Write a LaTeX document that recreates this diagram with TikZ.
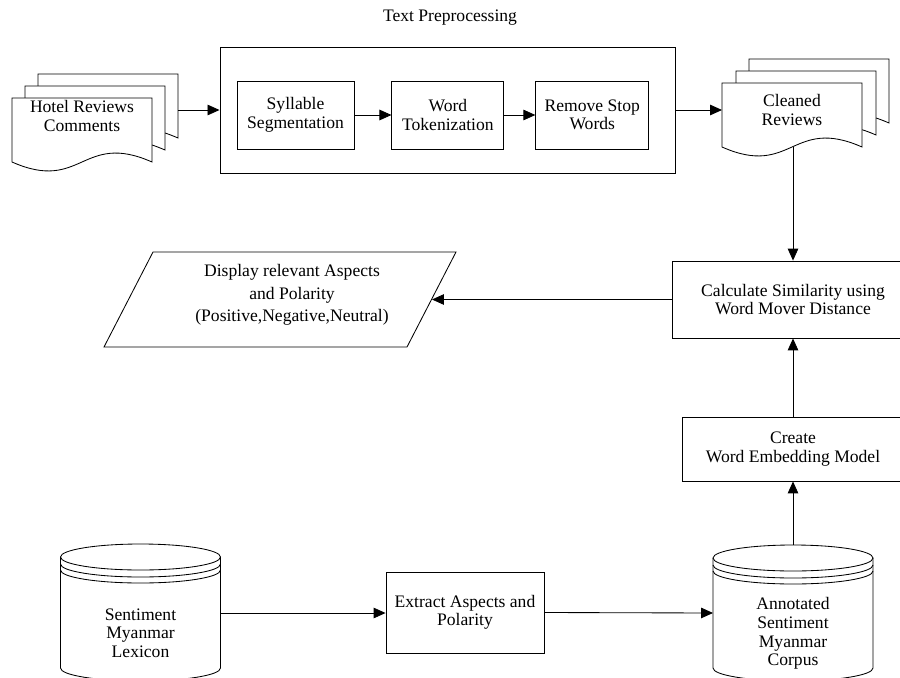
\documentclass[tikz,border=0pt]{standalone}
\usepackage{fontspec}
\setmainfont{Liberation Serif}
\usetikzlibrary{arrows.meta,positioning}

\tikzset{
  txt/.style={align=center, font=\fontsize{12.5}{13.2}\selectfont},
  box/.style={draw, fill=white, inner sep=0pt},
  flow/.style={-{Triangle[length=8.5pt,width=7.5pt]}},
}
% one sheet of a document stack, top left corner at #1
\newcommand\docsheet[1]{\draw[fill=white, shift={#1}] (0,0) -- (140,0) -- (140,64) .. controls (70,33) and (70,95) .. (0,64) -- cycle;}
% database drum, #1 = centre x, #2 = centre y of the lid
\newcommand\dbdrum[2]{%
  \draw[fill=white] (#1-80,#2) -- (#1-80,668) arc[start angle=180, end angle=0, x radius=80, y radius=13] -- (#1+80,#2);
  \draw (#1,#2) ellipse[x radius=80, y radius=13];
  \draw (#1-80,#2+7) arc[start angle=180, end angle=0, x radius=80, y radius=13];
  \draw (#1-80,#2+13) arc[start angle=180, end angle=0, x radius=80, y radius=13];
}

\begin{document}
\begin{tikzpicture}[x=0.025cm, y=-0.025cm, line width=0.6pt, every node/.style={txt}]
  \useasboundingbox (0,0) rectangle (900,677);
  \clip (0,0) rectangle (900,677);

  % preprocessing
  \node (title) at (450,18) {Text Preprocessing};
  \node[box, minimum width=11.375cm, minimum height=3.15cm] (prep) at (447.5,110) {};
  \node[box, minimum width=2.925cm, minimum height=1.7cm] (syll) at (295.5,115) {Syllable\\Segmentation};
  \node[box, minimum width=2.8cm, minimum height=1.7cm, right=0.925cm of syll] (tok) {Word\\Tokenization};
  \node[box, minimum width=2.825cm, minimum height=1.7cm, right=0.775cm of tok] (stop) {Remove Stop\\Words};

  % document stacks
  \docsheet{(38,74)} \docsheet{(25,86)} \docsheet{(12,98)}
  \node (hotel) at (82,116) {Hotel Reviews\\Comments};
  \coordinate (hotelR) at (178,110);
  \docsheet{(749,59)} \docsheet{(736,71)} \docsheet{(722,83)}
  \node (clean) at (792,110) {Cleaned\\Reviews};
  \coordinate (cleanL) at (722,110);
  \coordinate (cleanB) at (793,147);

  \node[box, minimum width=6.05cm, minimum height=1.925cm] (calc) at (793,299.5) {Calculate Similarity using\\Word Mover Distance};
  \node[box, minimum width=5.55cm, minimum height=1.6cm] (embed) at (793,449) {Create\\Word Embedding Model};

  % output
  \draw (104,347) -- (153,252) -- (456,252) -- (407,347) -- cycle;
  \node[font=\fontsize{12.5}{16}\selectfont] (disp) at (292,295) {Display relevant Aspects\\and Polarity\\(Positive,Negative,Neutral)};
  \coordinate (dispR) at (432,299.5);

  % databases
  \dbdrum{140.5}{557}
  \node (lex) at (140.5,633) {Sentiment\\Myanmar\\Lexicon};
  \coordinate (lexR) at (220.5,613);
  \dbdrum{793}{558}
  \node (corp) at (793,633.5) {Annotated\\Sentiment\\Myanmar\\Corpus};
  \coordinate (corpL) at (713,613);
  \coordinate (corpT) at (793,545);

  \node[box, minimum width=3.95cm, minimum height=2.025cm] (extract) at (465,612.5) {Extract Aspects and\\Polarity};

  \draw[flow] (hotelR) -- (hotelR -| prep.west);
  \draw[flow] (syll) -- (tok);
  \draw[flow] (tok) -- (stop);
  \draw[flow] (prep.east) -- (cleanL);
  \draw[flow] (cleanB) -- (calc.north);
  \draw[flow] (calc.west) -- (dispR);
  \draw[flow] (embed) -- (calc);
  \draw[flow] (corpT) -- (embed.south);
  \draw[flow] (lexR) -- (lexR -| extract.west);
  \draw[flow] (extract.east) -- (corpL);
\end{tikzpicture}
\end{document}
